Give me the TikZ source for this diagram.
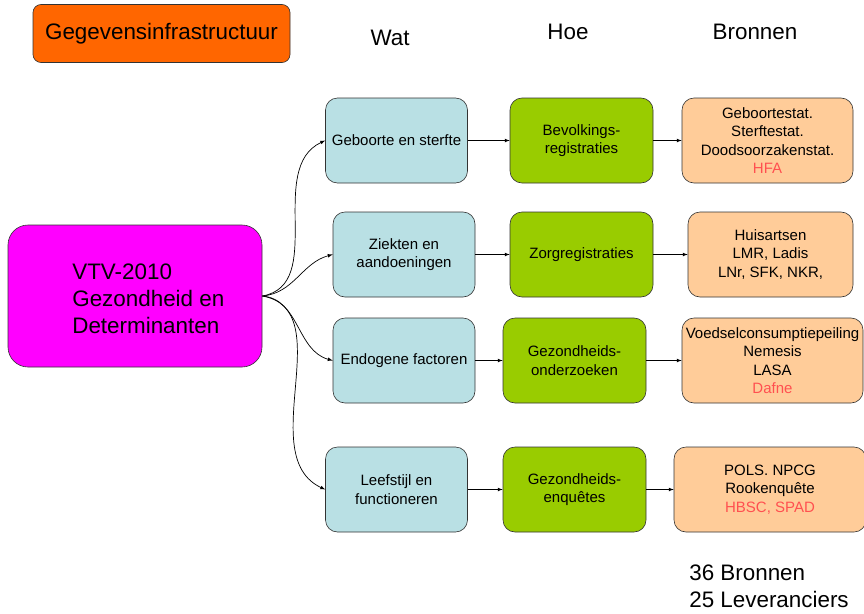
\documentclass[tikz,border=0pt]{standalone}
\usepackage{fontspec}
\setmainfont{Liberation Sans}
\usetikzlibrary{positioning}

\definecolor{headorange}{HTML}{FF6600}
\definecolor{vtvmagenta}{HTML}{FF00FF}
\definecolor{watblue}{HTML}{B9E0E4}
\definecolor{hoegreen}{HTML}{99CC00}
\definecolor{bronpeach}{HTML}{FFCC99}
\definecolor{bronred}{HTML}{FF5050}

\begin{document}
\begin{tikzpicture}[x=1pt,y=-1pt,->,>=latex,line width=0.7pt]
    \tikzstyle{box}=[rectangle,rounded corners=12pt,draw=black!80,line width=0.6pt,align=center,inner sep=2pt,font=\fontsize{15}{18.5}\selectfont]
    \tikzstyle{wat box}=[box,fill=watblue,minimum width=142pt,minimum height=85pt]
    \tikzstyle{hoe box}=[box,fill=hoegreen,minimum width=143pt,minimum height=85pt]
    \tikzstyle{bron box}=[box,fill=bronpeach,minimum height=85pt]
    \tikzstyle{big text}=[font=\fontsize{22.4}{26.8}\selectfont,inner sep=2pt]

    \useasboundingbox (0,0) rectangle (864,613);

    % Title and column headers
    \node[box,big text,fill=headorange,rounded corners=8pt,minimum width=257pt,minimum height=58pt] (title) at (161.5,33.5) {Gegevensinfrastructuur};
    \node[big text] (wat) at (390,38) {Wat};
    \node[big text] (hoe) at (568,32) {Hoe};
    \node[big text] (bronnen) at (755,32) {Bronnen};

    % Main box
    \node[box,fill=vtvmagenta,rounded corners=20pt,minimum width=254pt,minimum height=142pt] (vtv) at (135,296) {};
    \node[big text,align=left,right] (vtvtext) at (70,299) {VTV-2010\\Gezondheid en\\Determinanten};

    % What is measured
    \node[wat box] (wat-1) at (396.5,140.5) {Geboorte en sterfte};
    \node[wat box] (wat-2) at (404,254.5) {Ziekten en\\aandoeningen};
    \node[wat box] (wat-3) at (404,360.5) {Endogene factoren};
    \node[wat box] (wat-4) at (396.5,489.5) {Leefstijl en\\functioneren};

    % How it is measured
    \node[hoe box] (hoe-1) at (581.5,140.5) {Bevolkings-\\registraties};
    \node[hoe box] (hoe-2) at (581.5,254.5) {Zorgregistraties};
    \node[hoe box] (hoe-3) at (574.5,360.5) {Gezondheids-\\onderzoeken};
    \node[hoe box] (hoe-4) at (574.5,489.5) {Gezondheids-\\enquêtes};

    % Sources
    \node[bron box,minimum width=171pt] (bron-1) at (767.5,140.5) {Geboortestat.\\Sterftestat.\\Doodsoorzakenstat.\\\textcolor{bronred}{HFA}};
    \node[bron box,minimum width=165pt] (bron-2) at (770.5,254.5) {Huisartsen\\LMR, Ladis\\LNr, SFK, NKR,};
    \node[bron box,minimum width=181pt,inner sep=0pt] (bron-3) at (772.5,360.5) {Voedselconsumptiepeiling\\Nemesis\\LASA\\\textcolor{bronred}{Dafne}};
    \node[bron box,minimum width=192pt] (bron-4) at (770,489.5) {POLS. NPCG\\Rookenquête\\\textcolor{bronred}{HBSC, SPAD}};

    % Totals
    \node[big text,align=left,right] (totals) at (687,586) {36 Bronnen\\25 Leveranciers};

    % Connect the main box with every wat box
    \foreach \dest / \out / \in in {1/10/205, 2/5/195, 3/-5/165, 4/-10/155}
        \draw (vtv.east) to[out=\out,in=\in] (wat-\dest.west);

    % Connect each row left to right
    \foreach \row in {1,...,4}
    {
        \draw (wat-\row) -- (hoe-\row);
        \draw (hoe-\row) -- (bron-\row);
    }
\end{tikzpicture}
\end{document}
